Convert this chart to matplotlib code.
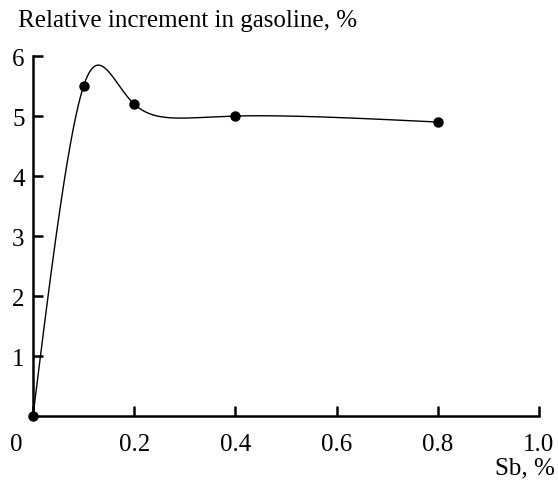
import numpy as np
import matplotlib.pyplot as plt
from matplotlib.transforms import ScaledTranslation

sb = [0.0, 0.1, 0.2, 0.4, 0.8]
increment = [0.0, 5.5, 5.2, 5.0, 4.9]
xticks = [0.0, 0.2, 0.4, 0.6, 0.8, 1.0]
xtick_labels = ['0', '0.2', '0.4', '0.6', '0.8', '1.0']
yticks = [1, 2, 3, 4, 5, 6]


def natural_spline(t, y, ts):
    # natural cubic spline, used only to draw the smooth connecting line
    t = np.asarray(t, float)
    y = np.asarray(y, float)
    n = len(t)
    h = np.diff(t)
    A = np.zeros((n, n))
    b = np.zeros(n)
    A[0, 0] = A[-1, -1] = 1
    for i in range(1, n - 1):
        A[i, i - 1] = h[i - 1]
        A[i, i] = 2 * (h[i - 1] + h[i])
        A[i, i + 1] = h[i]
        b[i] = 3 * ((y[i + 1] - y[i]) / h[i] - (y[i] - y[i - 1]) / h[i - 1])
    c = np.linalg.solve(A, b)
    out = np.empty(len(ts))
    for k, s in enumerate(ts):
        i = max(min(np.searchsorted(t, s, side='right') - 1, n - 2), 0)
        d = s - t[i]
        bi = (y[i + 1] - y[i]) / h[i] - h[i] * (2 * c[i] + c[i + 1]) / 3
        di = (c[i + 1] - c[i]) / (3 * h[i])
        out[k] = y[i] + bi * d + c[i] * d ** 2 + di * d ** 3
    return out


plt.rcParams['font.family'] = ['Liberation Serif', 'DejaVu Serif']
plt.rcParams['font.size'] = 18

fig = plt.figure(figsize=(5.58, 4.81), dpi=100)
ax = fig.add_axes([0.0591, 0.133, 0.9068, 0.7484])

# parametric spline (point index as parameter) through the measured points
knots = np.arange(len(sb), dtype=float)
ts = np.linspace(0, knots[-1], 600)
ax.plot(natural_spline(knots, sb, ts), natural_spline(knots, increment, ts),
        color='black', lw=1.0)
ax.plot(sb, increment, 'o', color='black', ms=6.5, clip_on=False, zorder=5)

ax.set_xlim(0, 1.0)
ax.set_ylim(0, 6)
ax.set_xticks(xticks)
ax.set_xticklabels(xtick_labels)
ax.set_yticks(yticks)

for side in ['top', 'right']:
    ax.spines[side].set_visible(False)
for side in ['left', 'bottom']:
    ax.spines[side].set_linewidth(1.8)

ax.tick_params(axis='both', direction='in', length=7, width=1.8)
ax.tick_params(axis='x', pad=12)
ax.tick_params(axis='y', pad=6)

# the "0" sits under the corner, left of the y axis
lbl = ax.get_xticklabels()[0]
lbl.set_transform(lbl.get_transform() + ScaledTranslation(-0.17, 0, fig.dpi_scale_trans))

fig.text(0.032, 0.956, 'Relative increment in gasoline, %', ha='left', va='center')
fig.text(0.995, 0.027, 'Sb, %', ha='right', va='center')

fig.savefig('out.png', dpi=100)
